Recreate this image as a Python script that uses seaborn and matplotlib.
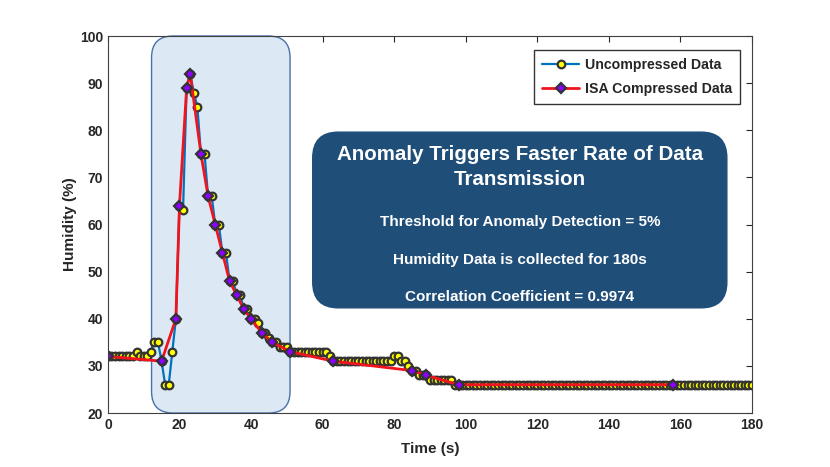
import matplotlib
matplotlib.use("Agg")
import matplotlib.pyplot as plt
from matplotlib.patches import FancyBboxPatch
import seaborn as sns

# uncompressed humidity readings, one per second (t = 0 .. 180 s)
raw_humidity = [
    32, 32, 32, 32, 32, 32, 32, 32, 33, 32,
    32, 32, 33, 35, 35, 31, 26, 26, 33, 40,
    64, 63, 89, 92, 88, 85, 75, 75, 66, 66,
    60, 60, 54, 54, 48, 48, 45, 45, 42, 42,
    40, 40, 39, 37, 37, 36, 35, 35, 34, 34,
    34, 33, 33, 33, 33, 33, 33, 33, 33, 33,
    33, 33, 32, 31, 31, 31, 31, 31, 31, 31,
    31, 31, 31, 31, 31, 31, 31, 31, 31, 31,
    32, 32, 31, 31, 30, 29, 29, 28, 28, 28,
    27, 27, 27, 27, 27, 27, 27, 26, 26, 26,
    26, 26, 26, 26, 26, 26, 26, 26, 26, 26,
    26, 26, 26, 26, 26, 26, 26, 26, 26, 26,
    26, 26, 26, 26, 26, 26, 26, 26, 26, 26,
    26, 26, 26, 26, 26, 26, 26, 26, 26, 26,
    26, 26, 26, 26, 26, 26, 26, 26, 26, 26,
    26, 26, 26, 26, 26, 26, 26, 26, 26, 26,
    26, 26, 26, 26, 26, 26, 26, 26, 26, 26,
    26, 26, 26, 26, 26, 26, 26, 26, 26, 26,
    26,
]
raw_time = list(range(len(raw_humidity)))

# ISA compressed samples actually transmitted
isa_time = [0, 15, 19, 20, 22, 23, 26, 28, 30, 32, 34, 36, 38, 40, 43, 46,
            51, 63, 85, 89, 98, 158]
isa_humidity = [32, 31, 40, 64, 89, 92, 75, 66, 60, 54, 48, 45, 42, 40, 37, 35,
                33, 31, 29, 28, 26, 26]

# anomaly window (s)
anomaly_start, anomaly_end = 12.2, 50.9

info_title = "Anomaly Triggers Faster Rate of Data\nTransmission"
info_lines = ["Threshold for Anomaly Detection = 5%",
              "Humidity Data is collected for 180s",
              "Correlation Coefficient = 0.9974"]

sns.set_style("white")
plt.rcParams["font.family"] = ["Liberation Sans", "DejaVu Sans"]
plt.rcParams["font.weight"] = "bold"

fig = plt.figure(figsize=(8.3, 4.67), dpi=100)
ax = fig.add_axes([0.130, 0.1156, 0.776, 0.8073])
ax.set_xlim(0, 180)
ax.set_ylim(20, 100)

# shaded anomaly window with rounded corners (x px/unit over y px/unit)
asp = (644 / 180) / (377 / 80)
window = FancyBboxPatch((anomaly_start, 20), anomaly_end - anomaly_start, 80,
                        boxstyle="round,pad=0,rounding_size=6.0",
                        mutation_aspect=asp, facecolor="#dde8f5",
                        edgecolor="#4a70a8", linewidth=1.0, zorder=1,
                        clip_on=False)
ax.add_patch(window)

sns.lineplot(x=raw_time, y=raw_humidity, ax=ax, color="#0072BD", linewidth=1.6,
             marker="o", markersize=5.5, markerfacecolor="#ffff00",
             markeredgecolor="#333333", markeredgewidth=1.6,
             label="Uncompressed Data", zorder=3)
sns.lineplot(x=isa_time, y=isa_humidity, ax=ax, color="#f0141e", linewidth=2.0,
             marker="D", markersize=5, markerfacecolor="#8b00ff",
             markeredgecolor="#333333", markeredgewidth=1.6,
             label="ISA Compressed Data", zorder=4)

# info box
info = FancyBboxPatch((0.318, 0.279), 0.643, 0.466, transform=ax.transAxes,
                      boxstyle="round,pad=0,rounding_size=0.04",
                      mutation_aspect=644 / 377, facecolor="#1f4e79",
                      edgecolor="#1f4e79", zorder=5)
ax.add_patch(info)
cx = 0.6395
ax.text(cx, 0.652, info_title, transform=ax.transAxes, ha="center", va="center",
        color="white", fontsize=14.8, fontweight="bold", linespacing=1.4,
        zorder=6)
for yy, line in zip([0.507, 0.406, 0.308], info_lines):
    ax.text(cx, yy, line, transform=ax.transAxes, ha="center", va="center",
            color="white", fontsize=11, fontweight="bold", zorder=6)

ax.set_xticks(range(0, 181, 20))
ax.set_yticks(range(20, 101, 10))
ax.tick_params(direction="in", length=4, top=True, right=True,
               labelsize=10, colors="#262626", width=0.8)
for lab in ax.get_xticklabels() + ax.get_yticklabels():
    lab.set_fontweight("bold")
for sp in ax.spines.values():
    sp.set_color("#404040")
    sp.set_linewidth(0.8)
    sp.set_zorder(7)

ax.set_xlabel("Time (s)", fontsize=11, fontweight="bold", color="#262626",
              labelpad=7)
ax.set_ylabel("Humidity (%)", fontsize=11, fontweight="bold", color="#262626",
              labelpad=2)

leg = ax.legend(loc="upper right", bbox_to_anchor=(0.981, 0.963),
                borderaxespad=0, fancybox=False, framealpha=1,
                edgecolor="#333333", prop={"weight": "bold", "size": 10.2},
                handlelength=2.6, labelspacing=0.75, borderpad=0.55,
                handletextpad=0.4)
leg.set_zorder(8)

fig.savefig("out.png", dpi=100)
